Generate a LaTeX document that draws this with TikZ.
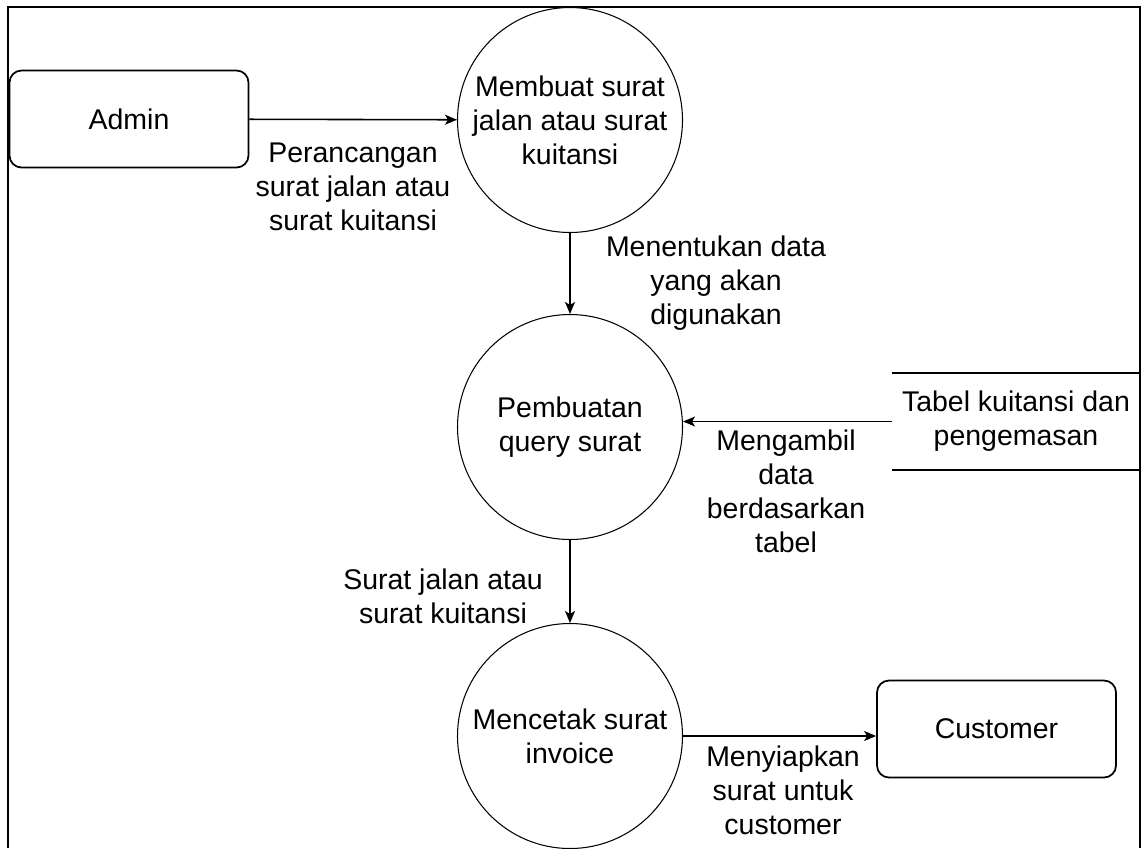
\documentclass[tikz,border=0pt]{standalone}
\usepackage{fontspec}
\setmainfont{Liberation Sans}
\usetikzlibrary{arrows.meta}
\usetikzlibrary{backgrounds,positioning,calc}
\pgfdeclarelayer{edgelayer}
\pgfdeclarelayer{nodelayer}
\pgfsetlayers{background,edgelayer,nodelayer,main}
\newcommand{\dfdfont}{\fontsize{16.2}{19.3}\selectfont}
\tikzstyle{none}=[inner sep=0mm]
\tikzstyle{proc}=[shape=circle,draw=black,line width=0.6pt,fill=white,minimum size=4.5cm,inner sep=0pt,align=center,font=\dfdfont]
\tikzstyle{ent}=[shape=rectangle,draw=black,line width=1pt,rounded corners=0.24cm,minimum width=4.78cm,minimum height=1.94cm,align=center,font=\dfdfont]
\tikzstyle{store}=[shape=rectangle,minimum width=4.96cm,minimum height=1.94cm,align=center,font=\dfdfont]
\tikzstyle{lbl}=[inner sep=0mm,align=center,font=\dfdfont]
\tikzstyle{flow}=[-{Stealth[length=0.24cm,width=0.2cm,inset=0.06cm]},line width=0.9pt]
\tikzstyle{frame}=[line width=1.1pt]

\begin{document}
\begin{tikzpicture}
	\useasboundingbox (0,0) rectangle (22.9,-16.96);
	\begin{pgfonlayer}{nodelayer}
		\node [style=ent] (1) at (2.58, -2.38) {Admin};
		\node [style=proc] (2) at (11.4, -2.4) {Membuat surat\\jalan atau surat\\kuitansi};
		\node [style=proc] (3) at (11.4, -8.54) {Pembuatan\\query surat};
		\node [style=proc] (5) at (11.4, -14.72) {Mencetak surat\\invoice};
		\node [style=ent] (6) at (19.93, -14.58) {Customer};
		\node [style=store] (9) at (20.32, -8.43) {Tabel kuitansi dan\\pengemasan};
		\node [style=lbl] (11) at (7.06, -3.74) {Perancangan\\surat jalan atau\\surat kuitansi};
		\node [style=lbl] (12) at (14.32, -5.66) {Menentukan data\\yang akan\\digunakan};
		\node [style=lbl] (13) at (15.72, -9.82) {Mengambil\\data\\berdasarkan\\tabel};
		\node [style=lbl] (14) at (8.86, -11.92) {Surat jalan atau\\surat kuitansi};
		\node [style=lbl] (15) at (15.66, -15.8) {Menyiapkan\\surat untuk\\customer};
	\end{pgfonlayer}
	\begin{pgfonlayer}{edgelayer}
		\draw [style=frame] (0.16, -16.96) -- (0.16, -0.14) -- (22.8, -0.14) -- (22.8, -16.96);
		\draw [line width=1pt] (9.north west) to (9.north east);
		\draw [line width=1pt] (9.south west) to (9.south east);
		\draw [style=flow] (1) to (2);
		\draw [style=flow] (2) to (3);
		\draw [style=flow] (9.west) to (9.west -| 3.east);
		\draw [style=flow] (3) to (5);
		\draw [style=flow] (5.east) to (5.east -| 6.west);
	\end{pgfonlayer}
\end{tikzpicture}
\end{document}
